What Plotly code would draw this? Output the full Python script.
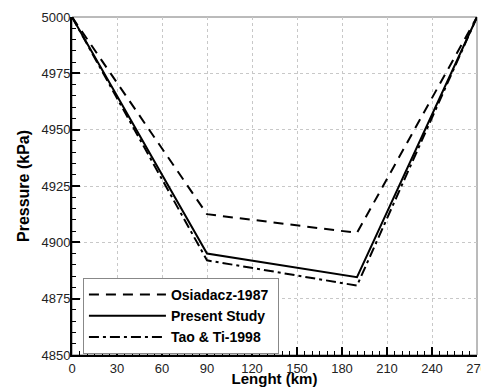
import plotly.graph_objects as go

length_km = [0, 90, 190, 270]
osiadacz_1987 = [5000, 4912.5, 4904.2, 5000]
present_study = [5000, 4895.0, 4884.5, 5000]
tao_ti_1998 = [5000, 4892.0, 4880.8, 5000]

x_ticks = [0, 30, 60, 90, 120, 150, 180, 210, 240, 270]
y_ticks = [4850, 4875, 4900, 4925, 4950, 4975, 5000]

pad = "\u00a0"
fig = go.Figure()
fig.add_trace(go.Scatter(x=length_km, y=osiadacz_1987, mode="lines", name="Osiadacz-1987" + pad,
                         line=dict(color="black", width=2, dash="10px,7px")))
fig.add_trace(go.Scatter(x=length_km, y=present_study, mode="lines", name="Present Study" + pad,
                         line=dict(color="black", width=2)))
fig.add_trace(go.Scatter(x=length_km, y=tao_ti_1998, mode="lines", name="Tao & Ti-1998" + pad,
                         line=dict(color="black", width=2, dash="10px,4px,3px,4px")))

font_family = "Liberation Sans, Arial, sans-serif"

# The page body has an 8px margin, so the figure is sized to fit the 489x387 window.
fig.update_layout(
    width=481, height=379,
    margin=dict(l=64, r=12, t=9, b=32, autoexpand=False),
    paper_bgcolor="white", plot_bgcolor="white",
    font=dict(family=font_family, size=13, color="#222"),
    showlegend=True,
    legend=dict(
        x=0.027, y=0.228, xanchor="left", yanchor="top",
        bgcolor="white", bordercolor="#888", borderwidth=1,
        font=dict(family=font_family, size=14, color="black", weight="bold"),
        itemwidth=77, tracegroupgap=0,
    ),
    shapes=[dict(type="rect", xref="paper", yref="paper", x0=0, y0=0, x1=1, y1=1,
                 line=dict(color="#777", width=1), layer="below")],
)

fig.update_xaxes(
    range=[0, 270], tickvals=x_ticks, ticktext=[str(v) for v in x_ticks],
    automargin=False,
    ticks="inside", ticklen=8, tickwidth=2, tickcolor="black",
    showline=True, linecolor="black", linewidth=2,
    showgrid=True, gridcolor="#c8c8c8", gridwidth=1, griddash="dot",
    zeroline=False,
    minor=dict(dtick=5, ticks="inside", ticklen=4, tickwidth=1, tickcolor="black", showgrid=False),
    title=dict(text="Lenght (km)", font=dict(size=15, weight="bold", color="black"), standoff=3),
    tickfont=dict(size=13, color="#222"),
)
fig.update_yaxes(
    range=[4850, 5000], tickvals=y_ticks, ticktext=[str(v) for v in y_ticks],
    automargin=False,
    ticks="inside", ticklen=8, tickwidth=2, tickcolor="black",
    showline=True, linecolor="black", linewidth=2,
    showgrid=True, gridcolor="#c8c8c8", gridwidth=1, griddash="dot",
    zeroline=False,
    minor=dict(dtick=5, ticks="inside", ticklen=4, tickwidth=1, tickcolor="black", showgrid=False),
    title=dict(text="Pressure (kPa)", font=dict(size=16, weight="bold", color="black"), standoff=8),
    tickfont=dict(size=13, color="#222"),
    ticklabelstandoff=-3,
)

fig.write_html("out.html")
